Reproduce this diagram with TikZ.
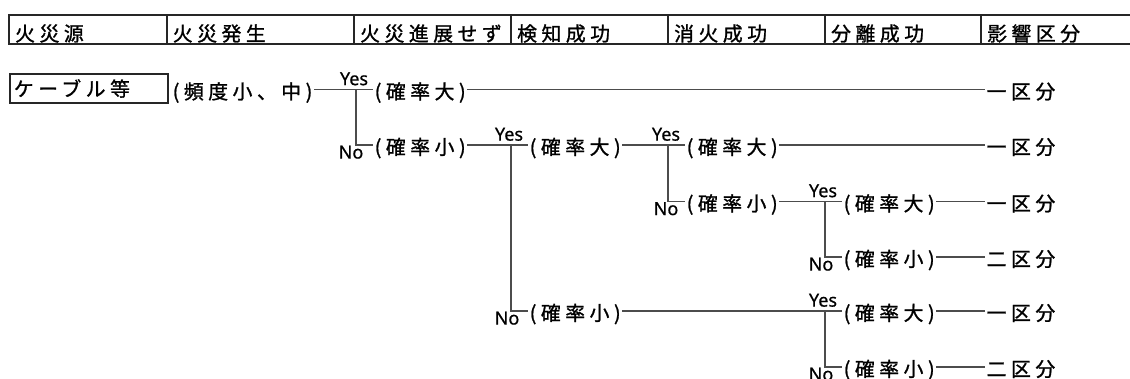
\documentclass[tikz,border=0pt]{standalone}
\usepackage{fontspec}
\setmainfont[FakeBold=0.6]{Noto Sans}
\newfontfamily\jpfont[LetterSpace=23, FakeBold=1.2]{Noto Sans CJK JP}
\usetikzlibrary{calc}

\begin{document}
\begin{tikzpicture}[
        x=1pt, y=-1pt,
        jp/.style={font=\jpfont\fontsize{19.8pt}{20pt}\selectfont, inner sep=0pt, anchor=west},
        prob/.style={jp, inner xsep=1.5pt, text height=20.8pt, text depth=2pt},
        yes/.style={font=\fontsize{18pt}{18pt}\selectfont, inner sep=0pt, anchor=south},
        no/.style={font=\fontsize{18pt}{18pt}\selectfont, inner sep=0pt, anchor=north},
        branch/.style={draw=black!70, line width=1.2pt},
        frame/.style={draw=black!85, line width=1.8pt},
    ]

    \useasboundingbox (0, 0) rectangle (1130, 378);

    \draw[frame] (9, 15) rectangle (1140, 44);
    \foreach \x in {166.7, 354, 511, 668, 825, 981}
        \draw[frame] (\x, 15) -- (\x, 44);

    \foreach \x/\lbl [count=\i] in {9/火災源, 166.7/火災発生, 354/火災進展せず, 511/検知成功,
                                    668/消火成功, 825/分離成功, 981/影響区分}
        \node[jp] (h\i) at (\x + 6, 33.5) {\lbl};

    \node[jp, draw=black!85, line width=1.8pt, minimum width=158pt, minimum height=29pt,
          text width=150pt, align=left, inner xsep=4pt] (src) at (9, 88.5) {ケーブル等};

    \coordinate (b1) at (356, 89.5);
    \coordinate (b2) at (511, 145);
    \coordinate (b3) at (668, 145);
    \coordinate (b4) at (825, 201.5);
    \coordinate (b5) at (825, 311);

    \node[prob] (t11) at (171, 89.5) {(頻度小、中)};
    \node[prob] (t12) at ($(b1) + (17, 0)$) {(確率大)};
    \node[prob] (t21) at ($(b1 |- b2) + (17, 0)$) {(確率小)};
    \node[prob] (t22) at ($(b2) + (17, 0)$) {(確率大)};
    \node[prob] (t23) at ($(b3) + (17, 0)$) {(確率大)};
    \node[prob] (t31) at ($(b3 |- b4) + (17, 0)$) {(確率小)};
    \node[prob] (t32) at ($(b4) + (17, 0)$) {(確率大)};
    \node[prob] (t41) at ($(b4) + (17, 55.5)$) {(確率小)};
    \node[prob] (t51) at ($(b2 |- b5) + (17, 0)$) {(確率小)};
    \node[prob] (t52) at ($(b5) + (17, 0)$) {(確率大)};
    \node[prob] (t61) at ($(b5) + (17, 56)$) {(確率小)};

    \foreach \r/\y/\lbl in {1/89.5/一区分, 2/145/一区分, 3/201.5/一区分,
                           4/257/二区分, 5/311/一区分, 6/367/二区分}
        \node[prob] (e\r) at (985, \y) {\lbl};

    \foreach \b in {1, ..., 5}
        \node[yes] (yes\b) at ($(b\b) + (-2, -4)$) {Yes};

    \node[no] (no1) at ($(b1 |- t21) + (-5, 0.5)$) {No};
    \node[no] (no2) at ($(b2 |- t51) + (-4, 0.5)$) {No};
    \node[no] (no3) at ($(b3 |- t31) + (-2, 0.5)$) {No};
    \node[no] (no4) at ($(b4 |- t41) + (-4, 0.5)$) {No};
    \node[no] (no5) at ($(b5 |- t61) + (-4, 0.5)$) {No};

    \draw[branch] (t11) -- (t12);
    \draw[branch] (t12) -- (e1);
    \draw[branch] (b1) |- (t21);
    \draw[branch] (t21) -- (t22);
    \draw[branch] (t22) -- (t23);
    \draw[branch] (t23) -- (e2);
    \draw[branch] (b3) |- (t31);
    \draw[branch] (t31) -- (t32);
    \draw[branch] (t32) -- (e3);
    \draw[branch] (b4) |- (t41);
    \draw[branch] (t41) -- (e4);
    \draw[branch] (b2) |- (t51);
    \draw[branch] (t51) -- (t52);
    \draw[branch] (t52) -- (e5);
    \draw[branch] (b5) |- (t61);
    \draw[branch] (t61) -- (e6);

\end{tikzpicture}
\end{document}
